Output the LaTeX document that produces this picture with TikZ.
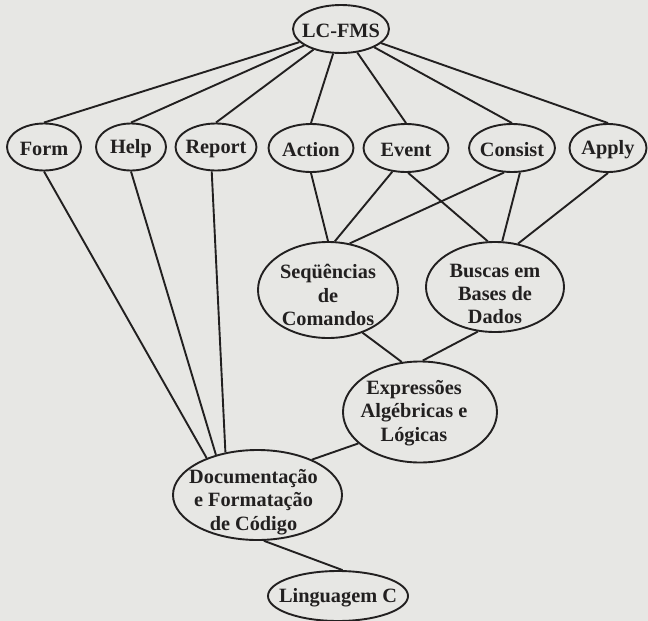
\documentclass[tikz,border=0pt]{standalone}
\usepackage{fontspec}
\setmainfont{Liberation Serif}
\usetikzlibrary{shapes.geometric}
\definecolor{paper}{RGB}{231,231,228}
\definecolor{ink}{RGB}{34,32,32}
\tikzset{
  oval/.style={ellipse, draw=ink, line width=1.9pt, inner sep=0pt},
  txt/.style={text=ink, inner sep=0pt, align=center,
    font=\fontsize{20.3}{23.3}\selectfont\bfseries},
  link/.style={draw=ink, line width=1.9pt}
}
\newcommand\ovalnode[8]{%
  \node[oval, minimum width=#4pt, minimum height=#5pt] (#1) at (#2,#3) {};
  \node[txt] (#1-t) at ([xshift=#7pt,yshift=#6pt]#1.center) {#8};}
\begin{document}
\begin{tikzpicture}[x=1pt,y=-1pt]
\fill[paper] (0,0) rectangle (648,621);
\useasboundingbox (0,0) rectangle (648,621);
\ovalnode{lc}{341}{29}{96}{48}{-2}{0}{LC-FMS}
\ovalnode{form}{44}{147}{74}{47}{-2}{0}{Form}
\ovalnode{help}{131}{147}{70}{47}{-2}{0}{Help}
\ovalnode{report}{216}{147}{81}{47}{-2}{0}{Report}
\ovalnode{action}{311}{148}{85}{48}{-2}{0}{Action}
\ovalnode{event}{406}{148}{85}{48}{-2}{0}{Event}
\ovalnode{consist}{512}{148}{86}{48}{-2}{0}{Consist}
\ovalnode{apply}{608}{148}{77}{48}{-2}{0}{Apply}
\ovalnode{seq}{328}{290}{140}{96}{-5}{0}{Seqüências\\de\\Comandos}
\ovalnode{busca}{495}{287}{138}{90}{-7}{0}{Buscas em\\Bases de\\Dados}
\ovalnode{expr}{420}{412}{154}{101}{-1}{-6}{Expressões\\Algébricas e\\Lógicas}
\ovalnode{doc}{257.5}{495}{169}{90}{-7}{-4}{Documentação\\e Formatação\\de Código}
\ovalnode{ling}{338}{596}{140}{50}{-2}{0}{Linguagem C}
\foreach \n in {form,help,report,action,event,consist,apply}
  \draw[link] (lc) -- (\n.north);
\draw[link] (form.south) -- (doc.144);
\draw[link] (help.south) -- (doc.136);
\draw[link] (report.-100) -- (doc.127);
\draw[link] (action.south) -- (seq.north);
\draw[link] (event.-120) -- (seq.82);
\draw[link] (consist.-108) -- (seq.65);
\draw[link] (event.-85) -- (busca.99);
\draw[link] (consist.-72) -- (busca.81);
\draw[link] (apply.south) -- (busca.62);
\draw[link] (seq.-51) -- (expr.110);
\draw[link] (busca.-111) -- (expr.87);
\draw[link] (expr.-153) -- (doc.33);
\draw[link] (doc.-82) -- (ling.80);
\end{tikzpicture}
\end{document}
